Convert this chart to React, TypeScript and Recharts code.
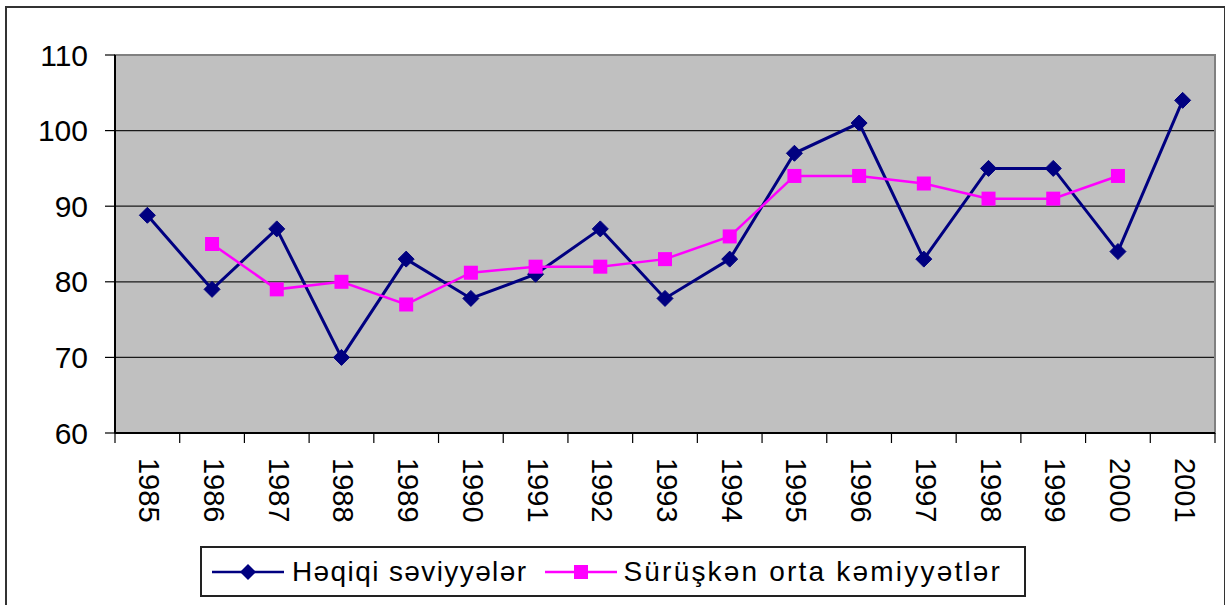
import * as React from "react";
import {
  CartesianGrid,
  Line,
  LineChart,
  ReferenceArea,
  XAxis,
  YAxis,
} from "recharts";

const years = [
  "1985", "1986", "1987", "1988", "1989", "1990", "1991", "1992", "1993",
  "1994", "1995", "1996", "1997", "1998", "1999", "2000", "2001",
];

const actualLevels = [
  88.8, 79, 87, 70, 83, 77.8, 81, 87, 77.8, 83, 97, 101, 83, 95, 95, 84, 104,
];

const movingAverages: (number | null)[] = [
  null, 85, 79, 80, 77, 81.2, 82, 82, 83, 86, 94, 94, 93, 91, 91, 94, null,
];

const yTicks = [60, 70, 80, 90, 100, 110];

const seriesNames = ["Həqiqi səviyyələr", "Sürüşkən orta kəmiyyətlər"];

const FONT = "'Liberation Sans', Arial, sans-serif";
const NAVY = "#000080";
const MAGENTA = "#FF00FF";

const data = years.map((year, i) => ({
  year,
  actual: actualLevels[i],
  moving: movingAverages[i],
}));

function Diamond(props: any) {
  const { cx, cy } = props;
  if (cx == null || cy == null) return null;
  const r = 8;
  return (
    <polygon
      points={`${cx},${cy - r} ${cx + r},${cy} ${cx},${cy + r} ${cx - r},${cy}`}
      fill={NAVY}
      stroke={NAVY}
    />
  );
}

function Square(props: any) {
  const { cx, cy, value } = props;
  if (cx == null || cy == null || value == null) return null;
  const s = 7;
  return <rect x={cx - s} y={cy - s} width={s * 2} height={s * 2} fill={MAGENTA} />;
}

function YearTick(props: any) {
  const { x, y, payload, index, width } = props;
  const bw = width / years.length;
  const left = x - bw / 2;
  return (
    <g>
      <line x1={left} y1={y} x2={left} y2={y + 10} stroke="#000" strokeWidth={1.2} />
      {index === years.length - 1 && (
        <line x1={x + bw / 2} y1={y} x2={x + bw / 2} y2={y + 10} stroke="#000" strokeWidth={1.2} />
      )}
      <text
        x={x + 2}
        y={y + 25}
        transform={`rotate(90, ${x + 2}, ${y + 25})`}
        textAnchor="start"
        dominantBaseline="central"
        fontSize={29}
        fontFamily={FONT}
        fill="#000"
      >
        {payload.value}
      </text>
    </g>
  );
}

function LegendIcon({ color, shape }: { color: string; shape: "diamond" | "square" }) {
  return (
    <svg width={72} height={24} style={{ display: "block", flex: "none" }}>
      <line x1={0} y1={12} x2={72} y2={12} stroke={color} strokeWidth={2.5} />
      {shape === "diamond" ? (
        <polygon points="36,4 44,12 36,20 28,12" fill={color} />
      ) : (
        <rect x={29} y={5} width={14} height={14} fill={color} />
      )}
    </svg>
  );
}

export default function App() {
  return (
    <div
      style={{
        position: "absolute",
        left: 0,
        top: 0,
        width: 1225,
        height: 605,
        overflow: "hidden",
        background: "#fff",
        fontFamily: FONT,
      }}
    >
      <div
        style={{
          position: "absolute",
          left: 5,
          top: 6,
          width: 1217,
          height: 640,
          border: "2px solid #333",
        }}
      />
      <LineChart
        width={1225}
        height={605}
        data={data}
        margin={{ top: 55, right: 10, left: 0, bottom: 82 }}
        style={{ position: "absolute", left: 0, top: 0 }}
      >
        <CartesianGrid
          vertical={false}
          fill="#C0C0C0"
          fillOpacity={1}
          stroke="#1a1a1a"
          strokeWidth={1.2}
        />
        <ReferenceArea y1={60} y2={110} fill="none" stroke="#808080" strokeWidth={2} ifOverflow="visible" />
        <XAxis
          dataKey="year"
          scale="band"
          height={90}
          interval={0}
          tickLine={false}
          tickSize={0}
          tickMargin={0}
          axisLine={{ stroke: "#000", strokeWidth: 2 }}
          tick={<YearTick />}
        />
        <YAxis
          width={115}
          domain={[60, 110]}
          ticks={yTicks}
          interval={0}
          tickSize={10}
          tickMargin={17}
          axisLine={{ stroke: "#000", strokeWidth: 2 }}
          tickLine={{ stroke: "#000", strokeWidth: 1.2 }}
          tick={{ fill: "#000", fontSize: 30, fontFamily: FONT }}
        />
        <Line
          dataKey="actual"
          name={seriesNames[0]}
          stroke={NAVY}
          strokeWidth={3}
          dot={<Diamond />}
          activeDot={false}
          isAnimationActive={false}
        />
        <Line
          dataKey="moving"
          name={seriesNames[1]}
          stroke={MAGENTA}
          strokeWidth={2.5}
          dot={<Square />}
          activeDot={false}
          isAnimationActive={false}
        />
      </LineChart>
      <div
        style={{
          position: "absolute",
          left: 200,
          top: 546,
          width: 826,
          height: 51,
          border: "2px solid #222",
          display: "flex",
          alignItems: "center",
          paddingLeft: 10,
          boxSizing: "border-box",
          fontSize: 28,
          letterSpacing: 1.4,
          color: "#000",
          whiteSpace: "nowrap",
        }}
      >
        <LegendIcon color={NAVY} shape="diamond" />
        <span style={{ marginLeft: 8, marginRight: 18 }}>{seriesNames[0]}</span>
        <LegendIcon color={MAGENTA} shape="square" />
        <span style={{ marginLeft: 6, letterSpacing: 2.2 }}>{seriesNames[1]}</span>
      </div>
    </div>
  );
}
